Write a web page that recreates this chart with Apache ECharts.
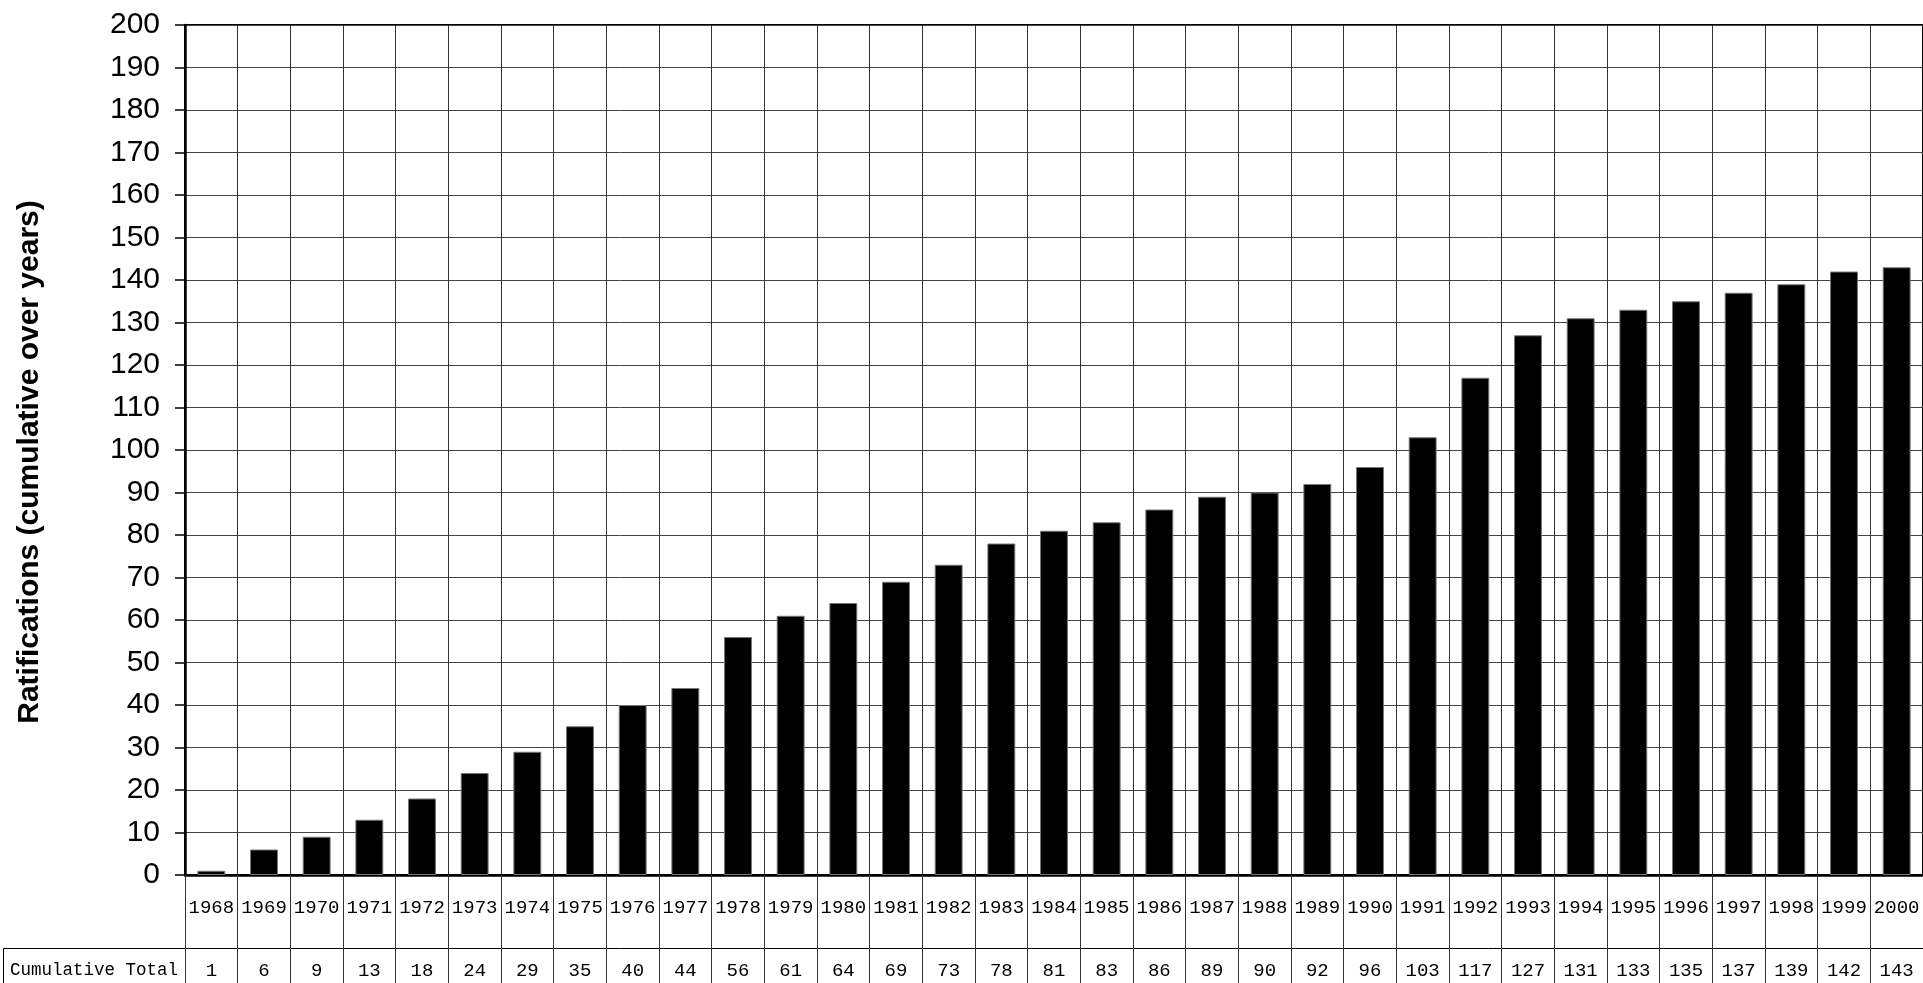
<!DOCTYPE html>
<html>
<head>
<meta charset="utf-8">
<script src="https://cdn.jsdelivr.net/npm/echarts@6/dist/echarts.min.js"></script>
<style>
html,body{margin:0;padding:0;background:#fff;}
#chart{width:1923px;height:983px;}
</style>
</head>
<body>
<div id="chart"></div>
<script>
const years = ['1968','1969','1970','1971','1972','1973','1974','1975','1976','1977','1978','1979','1980','1981','1982','1983','1984','1985','1986','1987','1988','1989','1990','1991','1992','1993','1994','1995','1996','1997','1998','1999','2000'];
const cumulativeTotal = [1,6,9,13,18,24,29,35,40,44,56,61,64,69,73,78,81,83,86,89,90,92,96,103,117,127,131,133,135,137,139,142,143];
const yAxisTitle = 'Ratifications (cumulative over years)';
const tableRowLabel = 'Cumulative Total';
const yMin = 0, yMax = 200, yStep = 10;

const chart = echarts.init(document.getElementById('chart'), null, {renderer:'canvas'});
const mono = '"Liberation Mono", "DejaVu Sans Mono", monospace';
const sans = '"Liberation Sans", Arial, sans-serif';

chart.setOption({
  backgroundColor: '#fff',
  animation: false,
  grid: {
    left: 185, top: 25, right: -2, bottom: 108,
    show: true, borderColor: '#000', borderWidth: 2, backgroundColor: 'transparent'
  },
  xAxis: [{
    type: 'category',
    data: years,
    boundaryGap: true,
    axisLine: {show: true, lineStyle: {color: '#000', width: 2.5}},
    axisTick: {show: true, length: 110, interval: 0, lineStyle: {color: '#333', width: 1}},
    splitLine: {show: true, interval: 0, lineStyle: {color: '#333', width: 1}},
    axisLabel: {interval: 0, margin: 23, fontFamily: mono, fontSize: 19, color: '#000'}
  }, {
    type: 'category',
    data: cumulativeTotal.map(String),
    position: 'bottom',
    offset: 73,
    boundaryGap: true,
    axisLine: {show: true, lineStyle: {color: '#000', width: 1}},
    axisTick: {show: false},
    splitLine: {show: false},
    axisLabel: {interval: 0, margin: 13, fontFamily: mono, fontSize: 19, color: '#000'}
  }],
  yAxis: {
    type: 'value',
    min: yMin, max: yMax, interval: yStep,
    name: yAxisTitle,
    nameLocation: 'middle',
    nameRotate: 90,
    nameGap: 140,
    nameTextStyle: {fontFamily: sans, fontWeight: 'bold', fontSize: 30, color: '#000', padding: [0, 24, 0, 0]},
    axisLine: {show: true, lineStyle: {color: '#000', width: 2.5}},
    axisTick: {show: true, length: 10, lineStyle: {color: '#000', width: 1.5}},
    splitLine: {show: true, lineStyle: {color: '#444', width: 1}},
    axisLabel: {margin: 25, fontFamily: sans, fontSize: 30, color: '#000'}
  },
  series: [{
    type: 'bar',
    data: cumulativeTotal,
    barWidth: '53%',
    itemStyle: {color: '#000', borderColor: '#777', borderWidth: 1}
  }],
  graphic: [{
    type: 'rect',
    shape: {x: 3.5, y: 948.5, width: 182, height: 60},
    style: {fill: 'none', stroke: '#000', lineWidth: 1}
  }, {
    type: 'text',
    x: 10, y: 970,
    style: {text: tableRowLabel, font: '17.5px ' + mono, fill: '#000', textVerticalAlign: 'middle', verticalAlign: 'middle'}
  }]
});
</script>
</body>
</html>
